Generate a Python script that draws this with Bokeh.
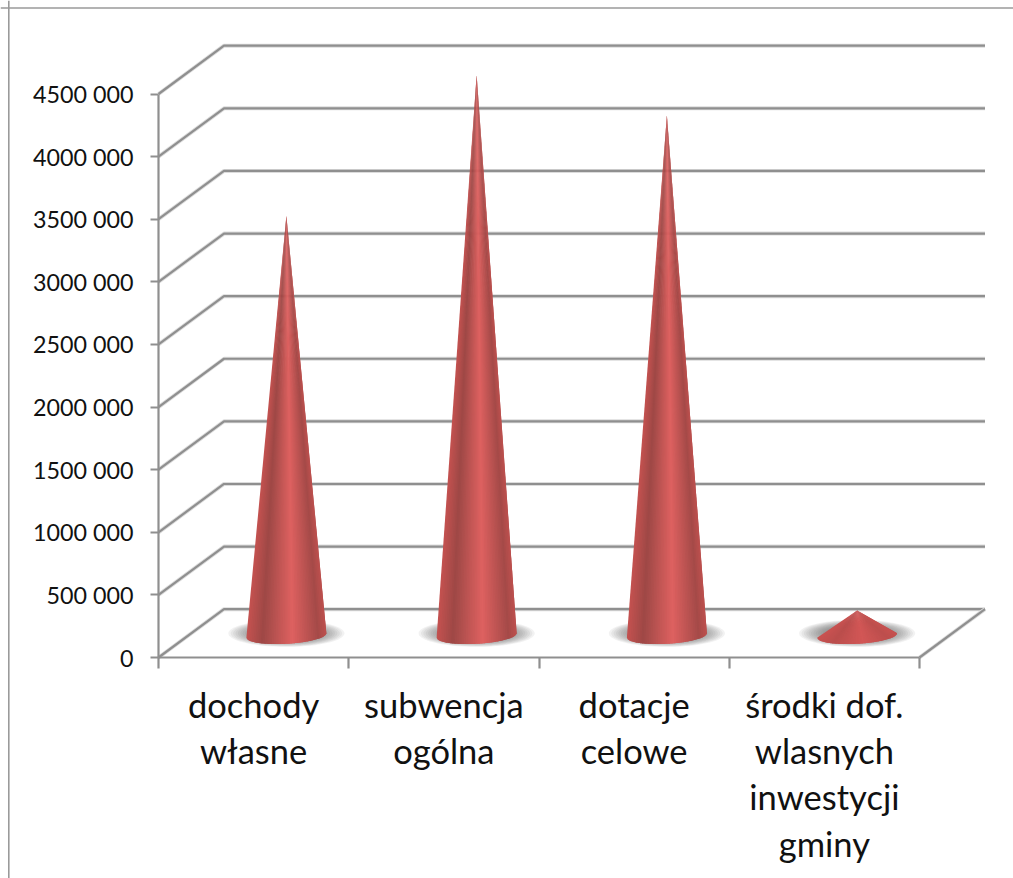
import numpy as np
from bokeh.plotting import figure
from bokeh.embed import file_html
from bokeh.resources import INLINE
from bokeh.models import FixedTicker, Span
from bokeh.core.properties import value

# ---- data ----
categories = [["dochody", "własne"],
              ["subwencja", "ogólna"],
              ["dotacje", "celowe"],
              ["środki dof.", "wlasnych", "inwestycji", "gminy"]]
values = [3333000, 4456000, 4136000, 182000]
tick_values = [0, 500000, 1000000, 1500000, 2000000, 2500000, 3000000, 3500000, 4000000, 4500000]
tick_labels = ["0", "500 000", "1000 000", "1500 000", "2000 000", "2500 000",
               "3000 000", "3500 000", "4000 000", "4500 000"]

# ---- layout: the frame fills the whole canvas ----
W, H = 1013, 878
X0_PAGE, Y0_PAGE = 158.0, 657.0      # page position of category 0 / value 0
PX_PER_CAT = 190.25
PX_PER_VAL = 563.5 / 4500000
def dpx(px): return px / PX_PER_CAT
def vpx(px): return px / PX_PER_VAL

x_start = dpx(0 - X0_PAGE)
x_end = dpx(W - X0_PAGE)
y_end = vpx(Y0_PAGE)
y_start = vpx(Y0_PAGE - H)

DX, DV = dpx(65.5), vpx(48.3)        # depth of the 3-D box
GRID = "#8f8f8f"
n_cat = len(categories)

p = figure(width=W, height=H, output_backend="svg", toolbar_location=None,
           x_range=(x_start, x_end), y_range=(y_start, y_end),
           min_border=0, min_border_left=0, min_border_right=0,
           min_border_top=0, min_border_bottom=0)
p.outline_line_color = None
p.background_fill_color = "white"
p.grid.visible = False

# chart border: only top and left are inside the picture
p.add_layout(Span(location=vpx(Y0_PAGE - 7.5), dimension="width", line_color="#9a9a9a", line_width=1.6))
p.add_layout(Span(location=dpx(8.3 - X0_PAGE), dimension="height", line_color="#9a9a9a", line_width=1.6))

# 3-D gridlines: side wall and back wall
xs_grid = [[0, DX, n_cat + DX] for _ in tick_values]
ys_grid = [[t, t + DV, t + DV] for t in tick_values]
p.multi_line(xs_grid, ys_grid, line_color="#dcdcdc", line_width=4, line_join="round")
p.multi_line(xs_grid, ys_grid, line_color=GRID, line_width=2.2, line_join="round")
p.line([n_cat, n_cat + DX], [0, DV], line_color="#dcdcdc", line_width=4)
p.line([n_cat, n_cat + DX], [0, DV], line_color=GRID, line_width=2.2)

# axes
yax = p.yaxis[0]
yax.fixed_location = 0
yax.bounds = (0, max(tick_values))
yax.ticker = FixedTicker(ticks=tick_values)
yax.major_label_overrides = dict(zip(tick_values, tick_labels))
yax.major_tick_in = 0
yax.major_tick_out = 8
yax.minor_tick_line_color = None
yax.axis_line_color = GRID
yax.axis_line_width = 2.2
yax.major_tick_line_color = GRID
yax.major_tick_line_width = 2.2
yax.major_label_standoff = 17
yax.major_label_text_font = "Lato"
yax.major_label_text_font_size = "23.3px"
yax.major_label_text_color = "#111111"

xax = p.xaxis[0]
xax.fixed_location = 0
xax.bounds = (0, n_cat)
xax.ticker = FixedTicker(ticks=list(range(n_cat + 1)))
xax.major_label_text_font_size = "0px"
xax.major_label_text_color = None
xax.major_tick_in = 0
xax.major_tick_out = 11
xax.minor_tick_line_color = None
xax.axis_line_color = GRID
xax.axis_line_width = 2.2
xax.major_tick_line_color = GRID
xax.major_tick_line_width = 2.2

# category labels
lx, ly, lt = [], [], []
for i, lines in enumerate(categories):
    for row, s in enumerate(lines):
        lx.append(i + 0.5)
        ly.append(-vpx(46.7 + 46.3 * row))
        lt.append(s)
p.text(lx, ly, text=lt, text_font=value("Lato"), text_font_size="34.5px",
       text_align="center", text_baseline="alphabetic", text_color="#111111")

# cones: shading profile across the width
SHADE_U = [-1.0, -0.6, 0.15, 0.8, 1.0]
SHADE_RGB = [(196, 82, 80), (158, 72, 70), (222, 97, 96), (165, 74, 72), (190, 80, 78)]
FLAT = (203, 81, 80)

def shade(u, contrast):
    col = [np.interp(u, SHADE_U, [c[k] for c in SHADE_RGB]) for k in range(3)]
    col = [FLAT[k] + (col[k] - FLAT[k]) * contrast for k in range(3)]
    return "#%02x%02x%02x" % tuple(int(round(c)) for c in col)

A = dpx(40)
B, TILT = vpx(8.3), vpx(2.2)
N = 44
for i, v in enumerate(values):
    cx = i + 0.5 + DX / 2
    base = vpx(Y0_PAGE - 635)
    apex = DV / 2 + v

    # soft floor shadow
    t = np.linspace(0, 2 * np.pi, 72)
    sx, sy = [], []
    for f in np.linspace(1.0, 0.55, 12):
        sx.append(list(cx + dpx(58) * f * np.cos(t)))
        sy.append(list(DV / 2 + vpx(13.5) * f * np.sin(t)))
    p.patches(sx, sy, fill_color="#555555", fill_alpha=0.08, line_color=None)

    # cone body as vertical strips
    contrast = min(1.0, 0.25 + v / 1500000)
    us = np.linspace(-1, 1, N + 1)
    for k in range(N):
        hi = us[min(k + 2, N)]
        th = np.arcsin(np.linspace(us[k], hi, 5))
        bx = cx + A * np.sin(th)
        by = base - B * np.cos(th) + TILT * np.sin(th)
        p.patch([cx] + list(bx), [apex] + list(by),
                fill_color=shade((us[k] + us[k + 1]) / 2, contrast), line_color=None)

open("out.html", "w").write(file_html(p, INLINE))
